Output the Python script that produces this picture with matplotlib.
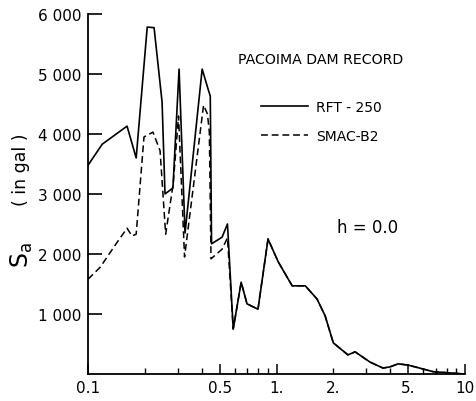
import matplotlib
matplotlib.use("Agg")
import matplotlib.pyplot as plt

# period (s) and spectral acceleration (gal)
rft_period = [0.100, 0.119, 0.161, 0.180, 0.206, 0.224, 0.247, 0.256, 0.282,
              0.304, 0.327, 0.403, 0.433, 0.445, 0.452, 0.514, 0.549, 0.589,
              0.649, 0.697, 0.797, 0.901, 1.02, 1.21, 1.42, 1.64, 1.81, 2.00,
              2.39, 2.61, 3.13, 3.67, 4.00, 4.41, 4.99, 6.77, 10.0]
rft_sa = [3480, 3830, 4130, 3600, 5780, 5770, 4530, 3000, 3100,
          5080, 2350, 5080, 4750, 4630, 2170, 2280, 2500, 750,
          1530, 1170, 1080, 2250, 1870, 1470, 1470, 1250, 970, 520,
          320, 370, 200, 100, 120, 170, 150, 40, 0]

smac_period = [0.100, 0.116, 0.143, 0.161, 0.171, 0.180, 0.198, 0.221, 0.241,
               0.258, 0.283, 0.302, 0.325, 0.410, 0.430, 0.440, 0.449, 0.514,
               0.549, 0.589, 0.649, 0.697, 0.797, 0.901, 1.02, 1.21, 1.42,
               1.64, 1.81, 2.00, 2.39, 2.61, 3.13, 3.67, 4.00, 4.41, 4.99,
               6.77, 10.0]
smac_sa = [1580, 1780, 2200, 2430, 2300, 2330, 3950, 4030, 3720,
           2330, 3170, 4300, 1950, 4480, 4330, 4030, 1920, 2080,
           2270, 750, 1530, 1170, 1080, 2250, 1870, 1470, 1470,
           1250, 970, 520, 320, 370, 200, 100, 120, 170, 150,
           40, 0]

x_major = [0.1, 0.5, 1, 5, 10]
x_major_labels = ["0.1", "0.5", "1.", "5.", "10"]
x_minor = [0.2, 0.3, 0.4, 0.6, 0.7, 0.8, 0.9, 2, 3, 4, 6, 7, 8, 9]
x_minor_labels = ["", "", "", "", "", "", "", "2.", "", "", "", "", "", ""]
y_ticks = [1000, 2000, 3000, 4000, 5000, 6000]
y_labels = ["1 000", "2 000", "3 000", "4 000", "5 000", "6 000"]

fig = plt.figure(figsize=(4.76, 4.02), dpi=100)
ax = fig.add_axes([0.185, 0.067, 0.792, 0.896])

ax.plot(rft_period, rft_sa, color="black", lw=1.2, label="RFT - 250")
ax.plot(smac_period, smac_sa, color="black", lw=1.1, dashes=(4.5, 2.5),
        label="SMAC-B2")

ax.set_xscale("log")
ax.set_xlim(0.1, 10)
ax.set_ylim(0, 6000)

for s in ["top", "right"]:
    ax.spines[s].set_visible(False)
for s in ["left", "bottom"]:
    ax.spines[s].set_linewidth(1.3)

ax.set_xticks(x_major, labels=x_major_labels)
ax.set_xticks(x_minor, labels=x_minor_labels, minor=True)
ax.set_yticks(y_ticks, labels=y_labels)
ax.tick_params(axis="x", which="major", direction="in", length=7, width=1.1,
               labelsize=11, pad=4)
ax.tick_params(axis="x", which="minor", direction="in", length=4, width=1.0,
               labelsize=11, pad=4)
ax.tick_params(axis="y", direction="in", length=10, width=1.2,
               labelsize=11, pad=5)
ax.yaxis.set_minor_locator(matplotlib.ticker.NullLocator())

fig.text(0.045, 0.365, r"$\mathsf{S_a}$", rotation=90, fontsize=17,
         ha="center", va="center")
fig.text(0.045, 0.577, "( in gal )", rotation=90, fontsize=12.5,
         ha="center", va="center")

fig.text(0.50, 0.851, "PACOIMA DAM RECORD", fontsize=10.2, ha="left",
         va="center")
ax.legend(loc="upper left", bbox_to_anchor=(0.548, 0.75),
          bbox_transform=fig.transFigure, frameon=False, fontsize=10,
          handlelength=3.4, handletextpad=0.6, labelspacing=1.1,
          borderpad=0, borderaxespad=0)
fig.text(0.708, 0.433, "h = 0.0", fontsize=12, ha="left", va="center")

fig.savefig("out.png", dpi=100)
